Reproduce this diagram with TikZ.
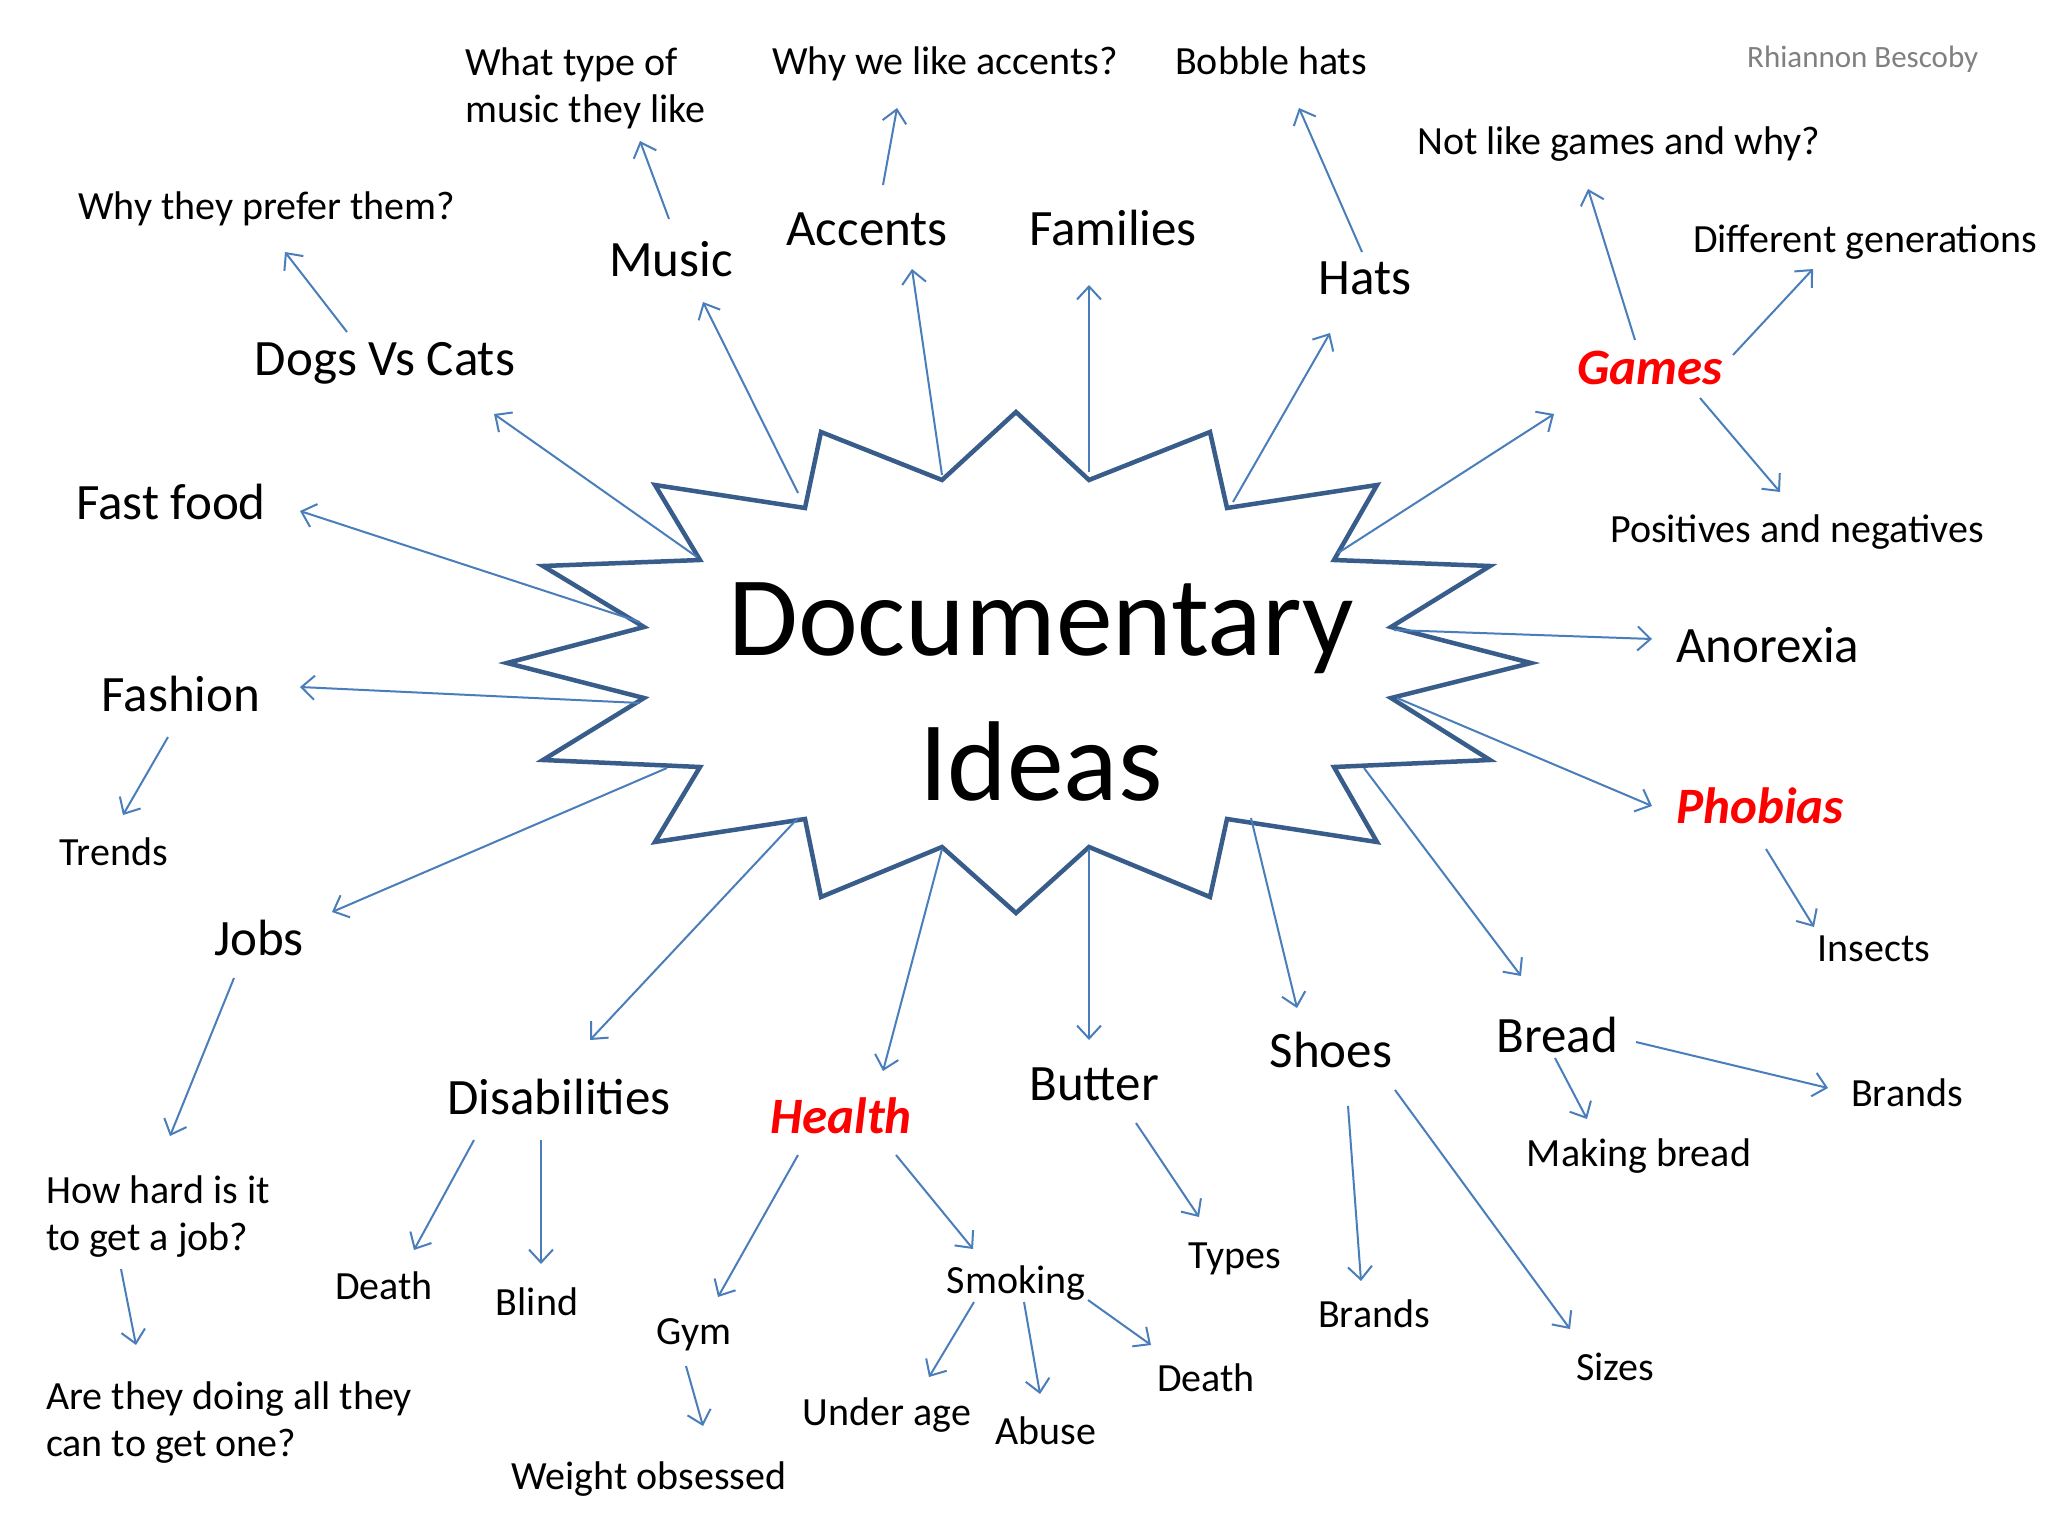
\documentclass[tikz,border=0pt]{standalone}
\usepackage{fontspec}
\setmainfont{Carlito}
\usetikzlibrary{arrows.meta}
\definecolor{starblue}{RGB}{56,93,138}
\definecolor{arrblue}{RGB}{74,126,187}
\definecolor{hotred}{RGB}{255,0,0}
\definecolor{wmgray}{RGB}{128,128,128}
\tikzset{
  big/.style={font=\fontsize{51}{61}\selectfont, inner sep=0pt, text height=32pt, text depth=0pt},
  hot/.style={font=\fontsize{51}{61}\selectfont\bfseries\itshape, text=hotred, inner sep=0pt, text height=32pt, text depth=0pt},
  small/.style={font=\fontsize{40}{47}\selectfont, inner sep=0pt, text height=27.5pt, text depth=0pt},
  smallml/.style={font=\fontsize{40}{47}\selectfont, inner sep=0pt, align=left},
  title/.style={font=\fontsize{113.5}{130}\selectfont, inner sep=0pt},
  conn/.style={draw=arrblue, line width=2pt, -{Straight Barb[length=13pt,width=24pt,line width=2pt]}},
}
\begin{document}
\begin{tikzpicture}[x=1pt,y=-1pt]
\useasboundingbox (0,0) rectangle (2048,1536);
\fill[white] (0,0) rectangle (2048,1536);

% star
\draw[starblue, line width=4.5pt, line join=miter]
 (1016,412) -- (1089,480) -- (1210,432) -- (1227,508) -- (1377,485) -- (1334,560)
 -- (1490,566) -- (1391,627) -- (1531,663) -- (1391,698) -- (1490,760) -- (1334,767)
 -- (1377,842) -- (1227,819) -- (1210,897) -- (1089,847) -- (1016,913) -- (942,847)
 -- (821,897) -- (805,819) -- (655,842) -- (700,767) -- (543,760) -- (644,698)
 -- (507,663) -- (644,627) -- (543,566) -- (700,560) -- (655,485) -- (805,508)
 -- (821,432) -- (942,480) -- cycle;

% title
\node[title, anchor=base] (doc) at (1041,655) {Documentary};
\node[title, anchor=base] (ideas) at (1041,800) {Ideas};

% watermark
\node[font=\fontsize{31}{37}\selectfont, text=wmgray, inner sep=0pt, anchor=west, text height=22.5pt, text depth=0pt] (wm) at (1747,56) {Rhiannon Bescoby};

% main labels
\node[big] (music) at (671,260) {Music};
\node[big] (accents) at (867,229) {Accents};
\node[big] (families) at (1113,229) {Families};
\node[big] (hats) at (1365,278) {Hats};
\node[big] (dogs) at (385,359) {Dogs Vs Cats};
\node[hot] (games) at (1650,368) {Games};
\node[big] (fastfood) at (171,503) {Fast food};
\node[big, anchor=west] (anorexia) at (1676,646) {Anorexia};
\node[big] (fashion) at (181,695) {Fashion};
\node[hot, anchor=west] (phobias) at (1676,807) {Phobias};
\node[big] (jobs) at (259,939) {Jobs};
\node[big] (bread) at (1557,1036) {Bread};
\node[big] (shoes) at (1331,1051) {Shoes};
\node[big] (butter) at (1094,1084) {Butter};
\node[big] (disab) at (559,1098) {Disabilities};
\node[hot] (health) at (841,1117) {Health};

% sub labels
\node[smallml, anchor=west] (whattype) at (465,88) {What type of\\music they like};
\node[small, anchor=west] (whyacc) at (772,61) {Why we like accents?};
\node[small, anchor=west] (bobble) at (1175,61) {Bobble hats};
\node[small, anchor=west] (notlike) at (1417,141) {Not like games and why?};
\node[small, anchor=west] (diffgen) at (1693,239) {Different generations};
\node[small, anchor=west] (whyprefer) at (78,206) {Why they prefer them?};
\node[small, anchor=west] (positives) at (1610,529) {Positives and negatives};
\node[small] (trends) at (114,852) {Trends};
\node[small] (insects) at (1874,948) {Insects};
\node[small] (brandsb) at (1907,1093) {Brands};
\node[small] (making) at (1639,1153) {Making bread};
\node[smallml, anchor=west] (howhard) at (46,1217) {How hard is it\\to get a job?};
\node[small] (types) at (1235,1255) {Types};
\node[small] (smoking) at (1016,1280) {Smoking};
\node[small] (deathd) at (384,1286) {Death};
\node[small] (blind) at (537,1302) {Blind};
\node[small] (brandss) at (1374,1314) {Brands};
\node[small] (gym) at (694,1331) {Gym};
\node[small] (sizes) at (1615,1367) {Sizes};
\node[small] (deaths) at (1206,1378) {Death};
\node[smallml, anchor=west] (arethey) at (46,1423) {Are they doing all they\\can to get one?};
\node[small] (underage) at (887,1412) {Under age};
\node[small] (abuse) at (1046,1431) {Abuse};
\node[small] (weight) at (649,1476) {Weight obsessed};

% coordinates: arrow starts on the star
\coordinate (sMusic) at (798,493);
\coordinate (sAcc) at (942,475);
\coordinate (sFam) at (1089,472);
\coordinate (sHats) at (1233,502);
\coordinate (sDogs) at (697,557);
\coordinate (sGames) at (1338,553);
\coordinate (sFast) at (640,622);
\coordinate (sAno) at (1394,630);
\coordinate (sFash) at (640,703);
\coordinate (sPho) at (1397,698);
\coordinate (sJobs) at (667,768);
\coordinate (sBread) at (1364,768);
\coordinate (sDis) at (798,818);
\coordinate (sHealth) at (942,849);
\coordinate (sButter) at (1089,849);
\coordinate (sShoes) at (1251,818);

% tips
\coordinate (tMusic) at (703,302);
\coordinate (tAcc) at (912,269);
\coordinate (tFam) at (1089,285);
\coordinate (tHats) at (1330,333);
\coordinate (tDogs) at (494,414);
\coordinate (tGames) at (1554,414);
\coordinate (tFast) at (300,511);
\coordinate (tAno) at (1652,639);
\coordinate (tFash) at (300,687);
\coordinate (tPho) at (1652,806);
\coordinate (tJobs) at (332,912);
\coordinate (tBread) at (1521,976);
\coordinate (tDis) at (590,1040);
\coordinate (tHealth) at (883,1071);
\coordinate (tButter) at (1089,1040);
\coordinate (tShoes) at (1297,1008);

\foreach \n in {Music,Acc,Fam,Hats,Dogs,Games,Fast,Ano,Fash,Pho,Jobs,Bread,Dis,Health,Butter,Shoes}
  \draw[conn] (s\n) -- (t\n);

% secondary arrows
\coordinate (a1) at (669,219);  \coordinate (b1) at (640,141);
\coordinate (a2) at (883,185);  \coordinate (b2) at (897,108);
\coordinate (a3) at (1362,252); \coordinate (b3) at (1299,108);
\coordinate (a4) at (347,332);  \coordinate (b4) at (285,252);
\coordinate (a5) at (1635,340); \coordinate (b5) at (1588,189);
\coordinate (a6) at (1733,355); \coordinate (b6) at (1813,269);
\coordinate (a7) at (1700,398); \coordinate (b7) at (1780,492);
\coordinate (a8) at (168,737);  \coordinate (b8) at (123,815);
\coordinate (a9) at (1766,849); \coordinate (b9) at (1814,927);
\coordinate (a10) at (234,978); \coordinate (b10) at (170,1136);
\coordinate (a11) at (121,1269); \coordinate (b11) at (136,1345);
\coordinate (a12) at (1636,1042); \coordinate (b12) at (1828,1088);
\coordinate (a13) at (1555,1058); \coordinate (b13) at (1587,1119);
\coordinate (a14) at (1348,1106); \coordinate (b14) at (1361,1281);
\coordinate (a15) at (1395,1090); \coordinate (b15) at (1570,1329);
\coordinate (a16) at (1136,1123); \coordinate (b16) at (1199,1217);
\coordinate (a17) at (474,1140); \coordinate (b17) at (414,1250);
\coordinate (a18) at (541,1140); \coordinate (b18) at (541,1264);
\coordinate (a19) at (798,1155); \coordinate (b19) at (718,1297);
\coordinate (a20) at (896,1155); \coordinate (b20) at (973,1249);
\coordinate (a21) at (686,1366); \coordinate (b21) at (703,1426);
\coordinate (a22) at (974,1302); \coordinate (b22) at (929,1377);
\coordinate (a23) at (1024,1302); \coordinate (b23) at (1040,1394);
\coordinate (a24) at (1088,1300); \coordinate (b24) at (1151,1345);

\foreach \i in {1,...,24}
  \draw[conn] (a\i) -- (b\i);
\end{tikzpicture}
\end{document}
